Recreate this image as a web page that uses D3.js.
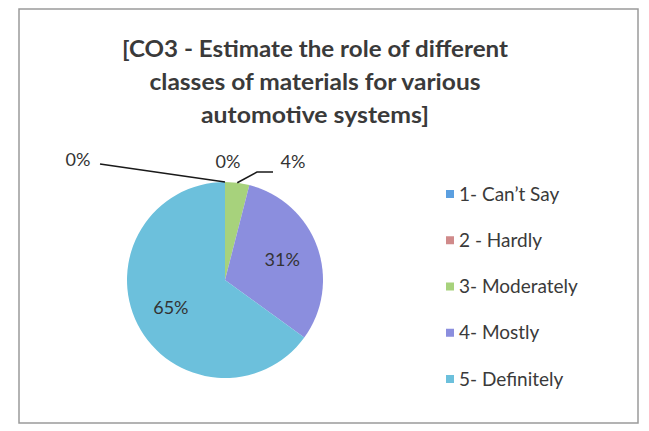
<!DOCTYPE html>
<html><head><meta charset="utf-8">
<script src="https://cdn.jsdelivr.net/npm/d3@7"></script>
<style>html,body{margin:0;padding:0;background:#fff;}svg{display:block;}</style>
</head><body>
<svg id="c" width="649" height="431"></svg>
<script>
const categories = ["1- Can\u2019t Say", "2 - Hardly", "3- Moderately", "4- Mostly", "5- Definitely"];
const values = [0, 0, 4, 31, 65];
const titleLines = ["[CO3 - Estimate the role of different", "classes of materials for various", "automotive systems]"];
const sliceColors = ["#5b9fe0", "#d08a8a", "#a7d27c", "#8b8ede", "#6cc0dc"];

const W = 649, H = 431;
const svg = d3.select("#c");
svg.append("rect").attr("x", 19).attr("y", 9).attr("width", 619).attr("height", 414)
  .attr("fill", "#fff").attr("stroke", "#9a9a9a").attr("stroke-width", 1.5);

const title = svg.append("g").attr("font-family", "Lato, 'Open Sans', sans-serif")
  .attr("font-weight", "bold").attr("font-size", 22).attr("fill", "#3a3a3a").attr("text-anchor", "middle");
const titleWidths = [386, 331, 228];
titleLines.forEach((t, i) => {
  title.append("text").attr("x", 315).attr("y", 57 + i * 33).text(t)
    .attr("textLength", titleWidths[i]).attr("lengthAdjust", "spacingAndGlyphs");
});

const cx = 225, cy = 280, r = 98;
const color = d3.scaleOrdinal().domain(categories).range(sliceColors);
const pie = d3.pie().sort(null).value(d => d.v).startAngle(0).endAngle(2 * Math.PI);
const data = categories.map((c, i) => ({ c, v: values[i] }));
const arcs = pie(data);
const arc = d3.arc().innerRadius(0).outerRadius(r);
const g = svg.append("g").attr("transform", `translate(${cx},${cy})`);
g.selectAll("path").data(arcs).join("path").attr("d", arc).attr("fill", d => color(d.data.c));

const fmt = v => Math.round(v) + "%";
const labelArc = d3.arc().innerRadius(r * 0.62).outerRadius(r * 0.62);
const lab = svg.append("g").attr("font-family", "Lato, 'Open Sans', sans-serif").attr("font-size", 18)
  .attr("fill", "#333");
arcs.filter(d => d.data.v >= 10).forEach(d => {
  const [x, y] = labelArc.centroid(d);
  lab.append("text").attr("x", cx + x).attr("y", cy + y).attr("dy", "0.35em")
    .attr("text-anchor", "middle").text(fmt(d.data.v));
});
const outside = [
  { lx: 78, ly: 160, path: (p) => `M${p[0]},${p[1]} L100,164` },
  { lx: 228, ly: 162, path: null },
  { lx: 293, ly: 162, path: (p) => `M${p[0]},${p[1]} L257,172 L273,172` }
];
arcs.filter(d => d.data.v < 10).forEach((d, i) => {
  const o = outside[i];
  const a = (d.startAngle + d.endAngle) / 2;
  const p = [cx + Math.sin(a) * r, cy - Math.cos(a) * r];
  if (o.path) svg.append("path").attr("d", o.path(p)).attr("fill", "none")
    .attr("stroke", "#1a1a1a").attr("stroke-width", 1.5);
  lab.append("text").attr("x", o.lx).attr("y", o.ly).attr("dy", "0.35em")
    .attr("text-anchor", "middle").text(fmt(d.data.v));
});

const leg = svg.append("g").attr("font-family", "Lato, 'Open Sans', sans-serif").attr("font-size", 19)
  .attr("fill", "#3a3a3a");
const ly = d3.scalePoint().domain(categories).range([194, 379]);
categories.forEach(c => {
  leg.append("rect").attr("x", 446).attr("y", ly(c) - 4).attr("width", 8).attr("height", 8)
    .attr("fill", color(c));
  leg.append("text").attr("x", 459).attr("y", ly(c)).attr("dy", "0.35em").text(c);
});
</script>
</body></html>
